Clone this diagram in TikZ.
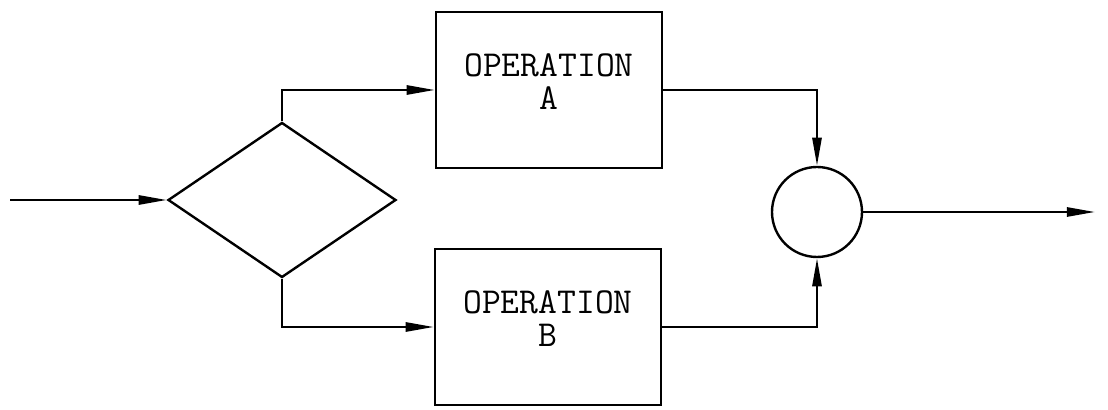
\documentclass[tikz,border=0pt]{standalone}
\usepackage{tikz}
\usetikzlibrary{shapes.geometric,arrows.meta}

\begin{document}
\begin{tikzpicture}[x=.25cm,y=.25cm,line width=1.7pt]
  \tikzset{font={\ttfamily\fontsize{26pt}{24pt}\selectfont},
    opbox/.style={draw,rectangle,minimum width=5.65cm,minimum height=3.9cm,
      align=center,inner sep=0pt,text depth=12pt},
    choice/.style={draw,diamond,minimum width=5.7cm,minimum height=3.875cm,
      inner sep=0pt},
    junction/.style={draw,circle,minimum size=2.25cm,inner sep=0pt},
    flow/.style={-{Triangle[length=20pt,width=6.5pt]}}}
  \useasboundingbox (0,0) rectangle (110.8,41);
  % blocks
  \node[choice] (dec) at (28.2,21) {};
  \node[opbox] (opA) at (54.9,32.0) {OPERATION\\A};
  \node[opbox] (opB) at (54.8,8.3) {OPERATION\\B};
  \node[junction] (sum) at (81.7,19.8) {};
  \coordinate (in) at (1.0,21);
  \coordinate (out) at (109.5,19.8);
  % connectors
  \draw[flow] (in)--(dec.west);
  \draw[flow] (dec.north)|-(opA.west);
  \draw[flow] (dec.south)|-(opB.west);
  \draw[flow] (opA.east)-|(sum.north);
  \draw[flow] (opB.east)-|(sum.south);
  \draw[flow] (sum.east)--(out);
\end{tikzpicture}
\end{document}
